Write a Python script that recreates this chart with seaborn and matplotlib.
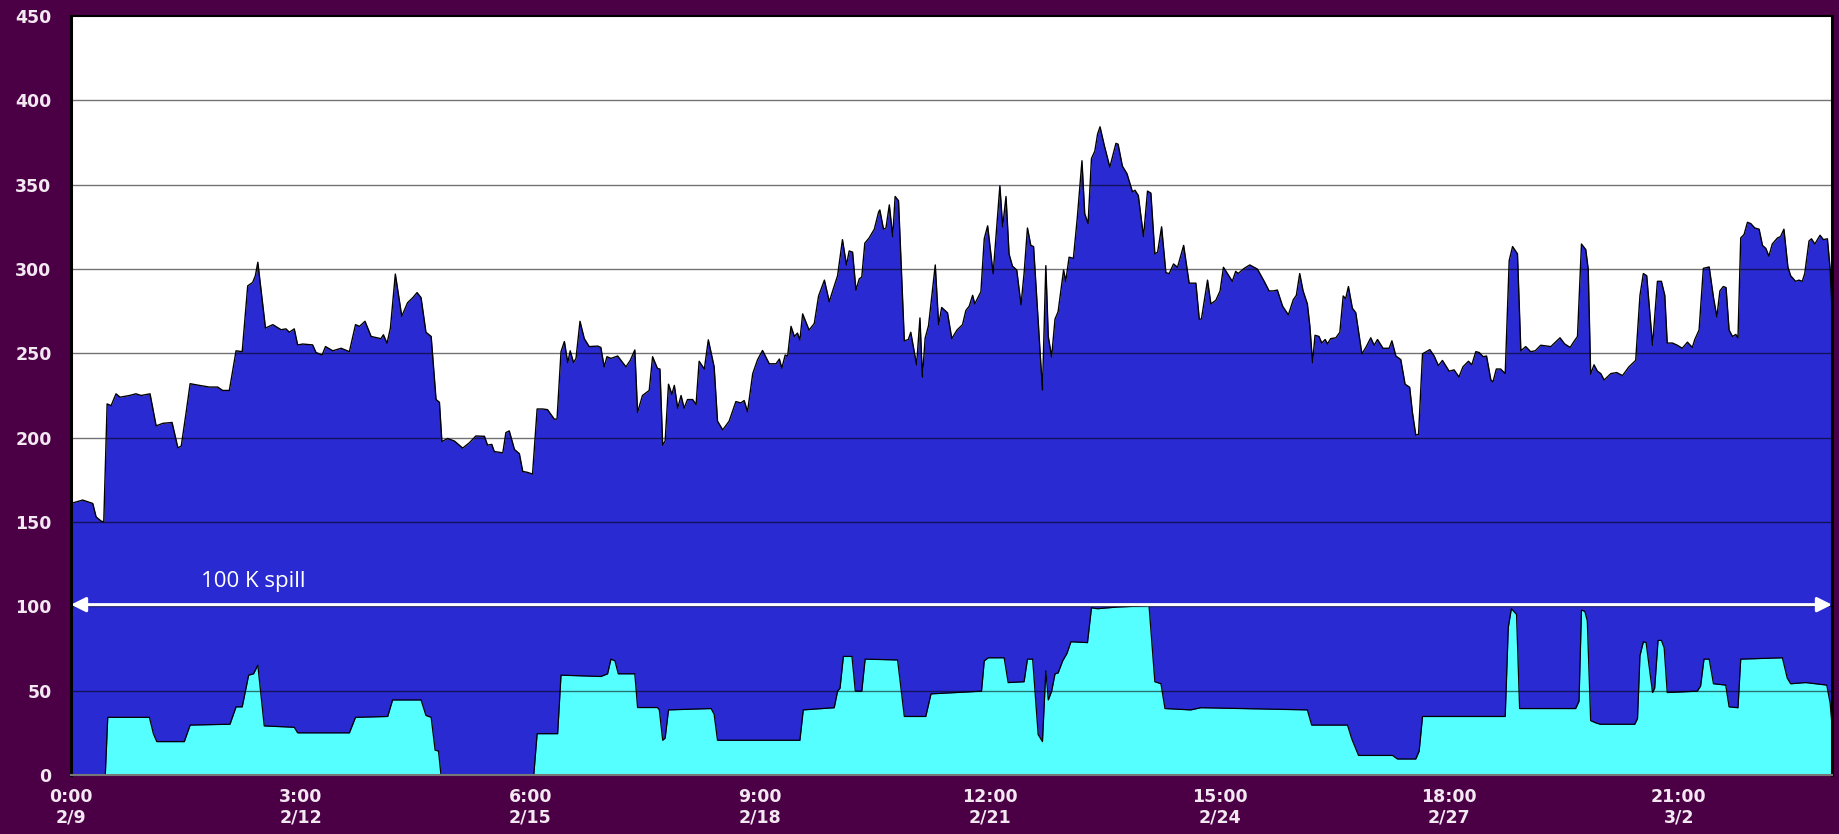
import pandas as pd
import numpy as np
import matplotlib
matplotlib.use("Agg")
import matplotlib.pyplot as plt
import seaborn as sns

# hours since 2/9 0:00 and total load (blue area)
total_hours = [0, 3.8, 7.1, 8.2, 9.8, 10.7, 11.8, 13.1, 14.7, 16, 19.1, 21.2, 22.9, 25.8, 27.8, 30, 33,
               34.9, 36, 37.6, 38.9, 41.9, 45.2, 47.9, 49.5, 51.7, 53.9, 55.9, 57.7, 59.3, 60.2, 61,
               63.5, 65.9, 68.6, 70.2, 71.3, 72.9, 74, 75.7, 78.9, 80, 82, 83.1, 85.5, 88.2, 90.9,
               92.9, 94.2, 96, 98, 101.2, 102, 103.2, 104.3, 105.9, 108, 109.9, 111.6, 113, 114.3,
               115.9, 117.6, 119.2, 120.3, 121.1, 123, 125.2, 127.9, 130.1, 132.2, 135, 136, 137.4,
               138.2, 141, 142, 143.1, 144.8, 146.4, 147.5, 149.1, 150.7, 152.2, 154, 155.6, 157.8,
               158.7, 160, 161.1, 162.2, 163, 164.1, 164.9, 166.2, 167.6, 169.2, 172, 173, 174.1,
               175, 176.3, 178.5, 181.2, 182.6, 184.1, 185, 186.6, 188.8, 189.9, 191.5, 192.3, 193.2,
               194, 195.1, 196.2, 197, 198.1, 199.2, 200.2, 201.3, 203, 204.1, 205.1, 206.8, 208.1,
               210, 211.1, 212.8, 214.9, 217.1, 218.7, 219.8, 220.9, 222.6, 224.2, 225.8, 228,
               230.2, 231.3, 232.1, 233.2, 234, 235.1, 236.2, 237.2, 238, 238.9, 241, 242.7, 244.1,
               246, 247.6, 248.7, 250.3, 251.9, 253.2, 254.1, 255.2, 256.3, 257.4, 258.2, 259.2,
               260.6, 262.3, 263.7, 264.1, 265.3, 266.1, 267.2, 268.3, 269.1, 270.2, 272.1, 273.4,
               274.2, 276.1, 277.2, 278, 278.9, 280, 282.2, 283.3, 284.3, 286.2, 287.6, 289.3,
               291.1, 292.2, 293.3, 294.4, 295.1, 297.1, 298.2, 299.3, 301.1, 303.3, 304.2, 305.3,
               306.3, 307.4, 308.8, 310.2, 311.2, 312.3, 313.4, 314.3, 315.8, 317.2, 318.3, 319.1,
               320.2, 321.3, 322.3, 324.1, 324.8, 325.9, 327.3, 328.6, 330.1, 331, 332.1, 333.2,
               334.3, 335.2, 336, 337.4, 339.2, 341.2, 341.9, 343.3, 344.8, 346.6, 347.4, 348.5,
               350.2, 351.5, 352.6, 353.9, 354.8, 356.1, 357.5, 358.6, 360, 361.3, 363.3, 365.1,
               367.3, 368.4, 369.1, 371.1, 372.2, 373.8, 375.2, 376.3, 379.2, 380.3, 381.1, 383.1,
               384.9, 387.4, 389.6, 391.2, 392.5, 393.9, 395.6, 397.5, 399.1, 400.1, 401.2, 402.3,
               403.7, 404.5, 405.4, 406.2, 407.5, 408.4, 409.5, 410.3, 411.3, 413, 414.3, 415.4,
               416.2, 417.1, 418.4, 419.5, 421.5, 422.8, 424.4, 425.5, 426.6, 428.4, 430.4, 431.3,
               432.6, 434.2, 435.6, 437.1, 438, 439.1, 440, 441.3, 443.7, 445.1, 446.5, 447.8, 450,
               451.6, 453.2, 454.5, 456.3, 457.4, 458.7, 459.8, 461.1, 462.2, 463.6, 464.3, 465.4,
               466.8, 468.3, 469.6, 470.7, 472.3, 473.4, 475, 476.6, 478.1, 479.9, 483.2, 486.2,
               487.7, 489.5, 490.6, 491.9, 493.2, 494.6, 495.4, 496.2, 497.3, 498.4, 499.5, 500.6,
               502.8, 504.7, 506.6, 508.7, 510.9, 512.3, 513.4, 514.5, 516.4, 518, 519.3, 520.4,
               521.2, 522.9, 524.5, 526.1, 527.8, 529.4, 530.2, 531.6, 533, 534.9, 536.3, 537.4,
               538.4, 539.5, 540.4, 541.4, 542.5, 543.6, 544.3, 545.2, 546.3, 547.4, 548.5, 549.8,
               551.2, 552.3, 553.4, 554.4, 555.5, 557.2, 558.2, 559.3, 560.6, 561.5, 563.1, 564.2,
               565.3, 566.1, 567.5, 568.3, 569.4, 571.1, 572.2, 573.5, 574.4, 575]
total_vals = [161, 163, 161, 153, 150.6, 150, 220, 219, 226, 224, 225, 226, 225, 226, 207, 208.5, 209,
              194, 195, 215, 232, 231, 230, 230, 228, 228, 251.5, 251, 290, 292, 296, 304,
              265, 267, 264, 264.5, 262.5, 264.5, 255, 255.5, 255, 250.5, 249, 254, 251.5, 253, 251,
              267, 266, 269, 260, 258.7, 261, 256, 265, 297, 272, 280, 283, 286, 283,
              262.5, 260, 222.6, 221, 197.7, 199.5, 198, 193.8, 197, 201, 200.8, 195.6, 196,
              191.8, 191, 203, 204, 193, 190.5, 180, 179.4, 178.4, 217, 217, 216.6, 211,
              211, 251, 257, 244.5, 251.5, 244.5, 247, 269, 258.7, 254, 254.3, 253.5, 242,
              248, 247, 248.4, 242, 245.8, 252, 215, 225, 228, 248, 241, 240.7, 195.6,
              198, 231.7, 225.7, 231, 217.5, 225, 217.5, 222.6, 222.6, 219.6, 245.3, 240.7, 258,
              242, 209.8, 204.6, 209.8, 221.4, 220.6, 222, 215.4, 238, 246.3, 251.7, 243.8,
              243.8, 246.6, 241.2, 249, 248.4, 266, 260, 262, 258, 273.4, 263.8, 267.7, 284,
              293.4, 280.6, 287, 296, 317.4, 302.4, 310.7, 310, 287.5, 294.2, 295.2, 315.3,
              318.4, 323.6, 333.8, 335, 323.6, 324.3, 338, 319.2, 343, 340.5, 257.4, 258.2,
              262.5, 243.2, 271, 236, 259, 266.4, 302.4, 267, 277.2, 274, 258.7, 263.8,
              267, 275.4, 278, 284.4, 279.3, 286.5, 318, 325.6, 297.3, 349.3, 325.1, 343,
              308.9, 301.7, 299.4, 278.8, 297.3, 324.3, 314, 313.3, 269, 228.3, 302, 260,
              247.9, 270.3, 274.6, 299.4, 292.7, 307, 306.3, 330.8, 364.2, 332.8, 327, 365.5,
              369.9, 380, 384.3, 373.2, 360.4, 374.5, 374, 361, 356.5, 345.7, 346.7, 343.6,
              319.2, 346.2, 345, 308.9, 310, 325, 297.8, 297.3, 303, 301, 314, 291.6,
              291.6, 270.3, 270.3, 293.4, 279.3, 281.4, 287, 301, 292.7, 298.6, 297.3, 300.4,
              302.4, 299.9, 292.7, 287, 287, 287.5, 278, 272.8, 281.8, 284.4, 297.3, 287,
              279.3, 266.4, 244.5, 260.7, 260, 256.1, 258.2, 255.6, 258.7, 259.2, 262.5, 284,
              282.4, 289.6, 276.7, 274.1, 249.7, 253.5, 259.2, 254.8, 258.2, 253, 253, 257.4,
              248.4, 246.3, 231.7, 229.9, 215, 201.5, 202, 249.7, 252.2, 248.4, 242.7, 245.8, 239.4,
              240.2, 236, 242, 245.3, 243.2, 251, 250.5, 248, 248.4, 234.3, 233, 240.7,
              240.7, 238, 305, 313.3, 309, 251.5, 254, 251, 251.5, 254.8, 254, 259.2,
              255.6, 253.5, 256.6, 260, 314.8, 311.5, 299.9, 237.6, 243.2, 239.4, 238, 234.2,
              238, 238.6, 236.8, 242, 245.8, 284.4, 297.3, 296, 254.8, 292.7, 292.7, 284.4,
              256.1, 256.1, 254.8, 253, 256.6, 253.5, 258.2, 263.8, 300.4, 301.2, 283.1, 271.6,
              287, 289.6, 289, 263.8, 260, 261.2, 259.2, 318.4, 320.5, 327.7, 326.9, 324.3,
              323.6, 314, 312.2, 307.6, 314.8, 318.4, 319.2, 323.6, 301.2, 296, 292.7, 293.4,
              292.7, 297.3, 316.6, 317.9, 314.8, 320, 317.4, 317.9, 299.9, 276.7]

# hours since 2/9 0:00 and spill part (cyan area)
spill_hours = [0, 11.2, 12, 25.6, 26.9, 28, 37, 37.8, 38.9, 51.9, 53.9, 55.9, 58, 59.6, 61, 63.1,
               72.9, 74, 90.9, 92.9, 103.4, 105, 114.3, 115.9, 117.6, 118.9, 120, 120.8, 151.1,
               152.2, 158.9, 160, 173, 175.2, 176.3, 177.6, 178.7, 184.1, 185, 191.5, 192.1, 193.2,
               194, 195.1, 209, 210, 211.1, 238, 239.1, 249.2, 250.3, 251.1, 252.2, 255, 256.1,
               258.2, 259.3, 269.9, 272.1, 279.1, 280.8, 297.3, 298.2, 299.5, 304.7, 306, 311.2,
               312.3, 314, 315.8, 317.2, 318.3, 319.1, 320.2, 321.3, 322.3, 323.8, 325.2, 326.5,
               331.9, 333.2, 335.2, 341.7, 352, 353.9, 355.9, 357.2, 365.6, 368.9, 403.7, 405.1,
               416.8, 418.2, 420.4, 431.5, 433.1, 439.1, 440.2, 441.3, 468.3, 469.3, 470.3, 472,
               473, 491.3, 492.4, 493.2, 494.3, 495.1, 496.2, 497.9, 499.3, 510.6, 511.5, 512.3,
               513.4, 514.3, 516.4, 517.1, 518.2, 519.3, 520.2, 521.2, 531, 532.1, 533.2, 534.9,
               536.3, 540.3, 541.4, 544.3, 545.2, 558.8, 560.4, 561.5, 566.4, 573.3, 574.4, 575]
spill_vals = [0, 0, 34.2, 34.2, 24.5, 19.8, 19.8, 24, 29.6, 30.1, 40.4, 40.4, 59.2, 60, 65.1, 29.1,
              28.3, 25, 25, 34.2, 34.7, 44.5, 44.5, 35.3, 34.2, 14.7, 14.2, 0, 0,
              24.5, 24.5, 59.2, 58.4, 60, 68.7, 67.7, 60, 60, 40, 40, 38.6, 20.6,
              21.9, 38.6, 39.4, 36, 20.6, 20.6, 38.6, 39.9, 49.7, 51.5, 70.3, 70.3, 49.7,
              49.7, 68.7, 68.2, 34.7, 34.7, 48.1, 49.7, 67.7, 69.5, 69.5, 54.8, 55.3,
              68.7, 68.7, 24, 19.8, 61.8, 44.5, 49.7, 60, 60.5, 67.7, 72.1, 79,
              78.5, 99.1, 98.6, 99.6, 100.4, 55.3, 54.1, 39.4, 38.6, 39.9, 38.6, 29.6,
              29.6, 21.4, 11.6, 11.6, 9.5, 9.5, 14.2, 34.7, 34.7, 87.5, 98.6, 95.2,
              39.4, 39.4, 43.8, 97.8, 97, 91.4, 32.2, 30.9, 30.1, 30.1, 33.5, 70.8,
              79, 78.5, 48.9, 51.5, 79.8, 79.8, 75.4, 48.9, 49.7, 52.8, 68.7, 68.7,
              54.1, 53.3, 40.4, 39.9, 68.7, 69.5, 57.4, 54.1, 54.8, 53.3, 42.5, 29.6]

tick_hours = [0, 75, 150, 225, 300, 375, 450, 525]
tick_labels = ["0:00\n2/9", "3:00\n2/12", "6:00\n2/15", "9:00\n2/18",
               "12:00\n2/21", "15:00\n2/24", "18:00\n2/27", "21:00\n3/2"]
y_ticks = [0, 50, 100, 150, 200, 250, 300, 350, 400, 450]
spill_level = 101

total_df = pd.DataFrame({"hour": total_hours, "value": total_vals})
spill_df = pd.DataFrame({"hour": spill_hours, "value": spill_vals})

sns.set_style("white")
plt.rcParams["font.family"] = ["DejaVu Sans"]

bg = "#4b0045"
fig = plt.figure(figsize=(18.39, 8.34), dpi=100, facecolor=bg)
ax = fig.add_axes([71 / 1839, 1 - 775 / 834, (1832 - 71) / 1839, (775 - 16) / 834])
ax.set_facecolor("white")

ax.fill_between(total_df["hour"], total_df["value"], color="#2a2ad3", zorder=1, linewidth=0)
sns.lineplot(data=total_df, x="hour", y="value", color="black", linewidth=1.0, ax=ax, zorder=2)
ax.fill_between(spill_df["hour"], spill_df["value"], color="#55ffff", zorder=3, linewidth=0)
sns.lineplot(data=spill_df, x="hour", y="value", color="black", linewidth=0.9, ax=ax, zorder=4)

for y in y_ticks[1:-1]:
    ax.axhline(y, color="black", linewidth=1.0, alpha=0.55, zorder=5)

ax.annotate("", xy=(0, spill_level), xytext=(575, spill_level),
            arrowprops=dict(arrowstyle="<|-|>", color="white", lw=2.2, mutation_scale=22,
                            shrinkA=0, shrinkB=0), zorder=6)
ax.text(59.4, 115, "100 K spill", color="white", fontsize=16, family=["Open Sans", "DejaVu Sans"],
        ha="center", va="center", zorder=6)

ax.set_xlim(0, 575)
ax.set_ylim(0, 450)
ax.set_xticks(tick_hours)
ax.set_xticklabels(tick_labels)
ax.set_yticks(y_ticks)
ax.set_xlabel("")
ax.set_ylabel("")
ax.tick_params(axis="y", length=0, pad=14, labelsize=12.5, labelcolor="#f3e8f2")
ax.tick_params(axis="x", length=0, pad=9, labelsize=12.5, labelcolor="#f3e8f2")
for lbl in ax.get_xticklabels() + ax.get_yticklabels():
    lbl.set_fontweight("bold")

for side in ["left", "right"]:
    ax.spines[side].set_color("black")
    ax.spines[side].set_linewidth(2.2)
ax.spines["top"].set_color("black")
ax.spines["top"].set_linewidth(1.5)
ax.spines["bottom"].set_color("#777777")
ax.spines["bottom"].set_linewidth(1.5)
for sp in ax.spines.values():
    sp.set_zorder(7)

fig.savefig("out.png", dpi=100, facecolor=bg)
